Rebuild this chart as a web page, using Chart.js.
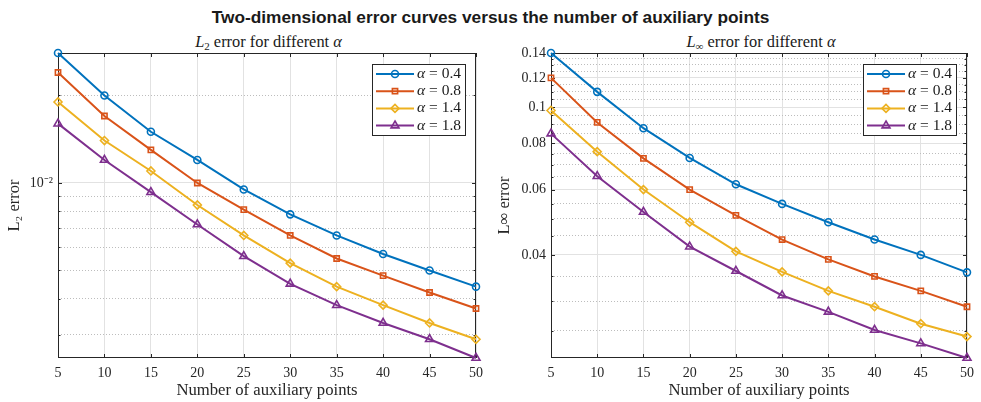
<!DOCTYPE html>
<html lang="en">
<head>
<meta charset="UTF-8">
<title>Two-dimensional error curves</title>
<script src="https://cdn.jsdelivr.net/npm/chart.js@4"></script>
<style>
  body { margin: 0; background: #fff; width: 981px; height: 402px; position: relative; overflow: hidden; }
  #figTitle { position: absolute; left: 0; top: 7px; width: 981px; text-align: center;
    font: bold 17.3px "Liberation Sans", Arial, sans-serif; color: #1a1a1a; }
  .panel { position: absolute; top: 26px; }
  .sub { position: absolute; top: 32px; text-align: center; font: 16.4px "Liberation Serif", serif; color: #1a1a1a; line-height: 19px; }
  .sub i { font-style: italic; }
  .sub sub { font-size: 11px; vertical-align: -3px; }
</style>
</head>
<body>
<div id="figTitle">Two-dimensional error curves versus the number of auxiliary points</div>
<div class="sub" style="left:58px;width:421px"><i>L</i><sub>2</sub> error for different <i>α</i></div>
<div class="sub" style="left:551px;width:420px"><i>L</i><sub>∞</sub> error for different <i>α</i></div>
<div class="panel" style="left:0"><canvas id="leftChart" width="490" height="376"></canvas></div>
<div class="panel" style="left:490px"><canvas id="rightChart" width="491" height="376"></canvas></div>

<script>
// data
const xPoints = [5, 10, 15, 20, 25, 30, 35, 40, 45, 50];
const alphas = ['0.4', '0.8', '1.4', '1.8'];
const colors = ['#0072BD', '#D95319', '#EDB120', '#7E2F8E'];
const markers = ['circle', 'rect', 'rectRot', 'triangle'];
const markerSizes = [3.5, 3.7, 4, 4.6];

// L2 error
const l2Alpha04 = [0.028, 0.020, 0.015, 0.012, 0.0095, 0.0078, 0.0066, 0.0057, 0.0050, 0.0044];
const l2Alpha08 = [0.024, 0.017, 0.013, 0.010, 0.0081, 0.0066, 0.0055, 0.0048, 0.0042, 0.0037];
const l2Alpha14 = [0.019, 0.014, 0.011, 0.0084, 0.0066, 0.0053, 0.0044, 0.0038, 0.0033, 0.0029];
const l2Alpha18 = [0.016, 0.012, 0.0093, 0.0072, 0.0056, 0.0045, 0.0038, 0.0033, 0.0029, 0.0025];

// L-infinity error
const lInfAlpha04 = [0.140, 0.110, 0.0878, 0.0730, 0.0620, 0.0549, 0.0490, 0.0440, 0.0400, 0.0359];
const lInfAlpha08 = [0.120, 0.0910, 0.0728, 0.0600, 0.0511, 0.0440, 0.0389, 0.0350, 0.0320, 0.0290];
const lInfAlpha14 = [0.098, 0.0759, 0.0600, 0.0490, 0.0409, 0.0360, 0.0320, 0.0290, 0.0261, 0.0241];
const lInfAlpha18 = [0.0849, 0.0652, 0.0522, 0.0421, 0.0362, 0.0311, 0.0281, 0.0251, 0.0231, 0.0211];

// y ticks (major ones are labelled, minor ones only get dotted grid)
const l2MajorTicks = [0.01];
const l2MinorTicks = [0.003, 0.004, 0.005, 0.006, 0.007, 0.008, 0.009, 0.02];
const lInfMajorTicks = [0.04, 0.06, 0.08, 0.1, 0.12, 0.14];
const lInfMinorTicks = [0.025, 0.03, 0.035, 0.045, 0.05, 0.055, 0.065, 0.07, 0.075,
  0.085, 0.09, 0.095, 0.105, 0.11, 0.115, 0.125, 0.13, 0.135];

Chart.defaults.font.family = '"Liberation Serif", "Times New Roman", serif';
Chart.defaults.color = '#262626';

const isIn = (list, v) => list.some(m => Math.abs(m - v) < 1e-9);

// box round the axes with inward tick marks, like matlab
const framePlugin = {
  id: 'frame',
  beforeDatasetsDraw(chart) {
    const { ctx, chartArea: a, scales } = chart;
    ctx.save();
    ctx.strokeStyle = '#262626';
    ctx.lineWidth = 1;
    ctx.strokeRect(Math.round(a.left) + 0.5, Math.round(a.top) + 0.5,
      Math.round(a.right - a.left) - 1, Math.round(a.bottom - a.top) - 1);
    ctx.beginPath();
    scales.x.ticks.forEach(t => {
      const px = Math.round(scales.x.getPixelForValue(t.value)) + 0.5;
      ctx.moveTo(px, a.bottom); ctx.lineTo(px, a.bottom - 4);
      ctx.moveTo(px, a.top); ctx.lineTo(px, a.top + 4);
    });
    const majors = chart.options.scales.y.majorTicks;
    scales.y.ticks.forEach(t => {
      const py = Math.round(scales.y.getPixelForValue(t.value)) + 0.5;
      const len = isIn(majors, t.value) ? 4 : 2.5;
      ctx.moveTo(a.left, py); ctx.lineTo(a.left + len, py);
      ctx.moveTo(a.right, py); ctx.lineTo(a.right - len, py);
    });
    ctx.stroke();
    ctx.restore();
  }
};

// boxed legend in the upper right of the plot area
const boxLegend = {
  id: 'boxLegend',
  afterDraw(chart) {
    const { ctx, chartArea: a } = chart;
    const w = 93, h = 71;
    const x0 = Math.round(a.right - 11 - w), y0 = Math.round(a.top + 11);
    ctx.save();
    ctx.fillStyle = '#fff';
    ctx.fillRect(x0, y0, w, h);
    ctx.strokeStyle = '#262626';
    ctx.lineWidth = 1;
    ctx.strokeRect(x0 + 0.5, y0 + 0.5, w, h);
    chart.data.datasets.forEach((ds, i) => {
      const y = y0 + 10 + i * 17.2;
      ctx.strokeStyle = ds.borderColor;
      ctx.lineWidth = ds.borderWidth;
      ctx.beginPath();
      ctx.moveTo(x0 + 4, y); ctx.lineTo(x0 + 42, y);
      ctx.stroke();
      ctx.fillStyle = 'rgba(0,0,0,0)';
      ctx.lineWidth = ds.pointBorderWidth;
      Chart.helpers.drawPoint(ctx, { pointStyle: ds.pointStyle, radius: ds.pointRadius,
        borderWidth: ds.pointBorderWidth, rotation: 0 }, x0 + 23, y);
      ctx.fillStyle = '#1a1a1a';
      ctx.textBaseline = 'middle';
      ctx.font = 'italic 15.5px "Liberation Serif", serif';
      ctx.fillText('α', x0 + 45, y);
      const aw = ctx.measureText('α').width;
      ctx.font = '15.5px "Liberation Serif", serif';
      ctx.fillText(' = ' + alphas[i], x0 + 45 + aw, y);
    });
    ctx.restore();
  }
};

function makeChart(id, series, yMin, yMax, majors, minors, labelFn, yTitle, yWidth, rightPad) {
  const datasets = series.map((vals, i) => ({
    label: 'α = ' + alphas[i],
    data: xPoints.map((x, j) => ({ x: x, y: vals[j] })),
    borderColor: colors[i],
    backgroundColor: 'rgba(0,0,0,0)',
    pointBackgroundColor: 'rgba(0,0,0,0)',
    borderWidth: 2,
    pointStyle: markers[i],
    pointRadius: markerSizes[i],
    pointBorderWidth: 1.6,
    tension: 0,
    clip: false
  }));
  return new Chart(document.getElementById(id), {
    type: 'line',
    data: { datasets },
    plugins: [framePlugin, boxLegend],
    options: {
      responsive: false,
      animation: false,
      devicePixelRatio: 1,
      layout: { padding: { top: 27, right: rightPad, bottom: 0, left: 0 } },
      plugins: { legend: { display: false }, title: { display: false }, tooltip: { enabled: false } },
      scales: {
        x: {
          type: 'linear', min: 5, max: 50,
          afterFit: s => { s.height = 44; },
          ticks: { stepSize: 5, padding: 7, font: { size: 14 }, color: '#262626', maxRotation: 0 },
          grid: { color: '#e2e2e2', lineWidth: 1, drawTicks: false },
          border: { display: false },
          title: { display: true, text: 'Number of auxiliary points', font: { size: 16.7 },
            color: '#262626', padding: { top: 0, bottom: 1 } }
        },
        y: {
          type: 'logarithmic', min: yMin, max: yMax, bounds: 'data',
          majorTicks: majors,
          afterFit: s => { s.width = yWidth; },
          afterBuildTicks: s => {
            s.ticks = majors.concat(minors).sort((p, q) => p - q).map(v => ({ value: v }));
          },
          ticks: { autoSkip: false, padding: 5, font: { size: 14 }, color: '#262626',
            callback: v => isIn(majors, v) ? labelFn(v) : '' },
          grid: {
            drawTicks: false, lineWidth: 1,
            color: c => (c.tick && isIn(majors, c.tick.value)) ? '#e2e2e2' : '#bdbdbd'
          },
          border: {
            display: false,
            dash: c => (c.tick && !isIn(majors, c.tick.value)) ? [1, 2] : []
          },
          title: { display: true, text: yTitle, font: { size: 16.5 }, color: '#262626',
            padding: { top: 5, bottom: 0 } }
        }
      }
    }
  });
}

makeChart('leftChart', [l2Alpha04, l2Alpha08, l2Alpha14, l2Alpha18], 0.0025, 0.028,
  l2MajorTicks, l2MinorTicks, () => '10⁻²', 'L₂ error', 58, 11);
makeChart('rightChart', [lInfAlpha04, lInfAlpha08, lInfAlpha14, lInfAlpha18], 0.0211, 0.14,
  lInfMajorTicks, lInfMinorTicks, v => String(v), 'L∞ error', 61, 10);
</script>
</body>
</html>
